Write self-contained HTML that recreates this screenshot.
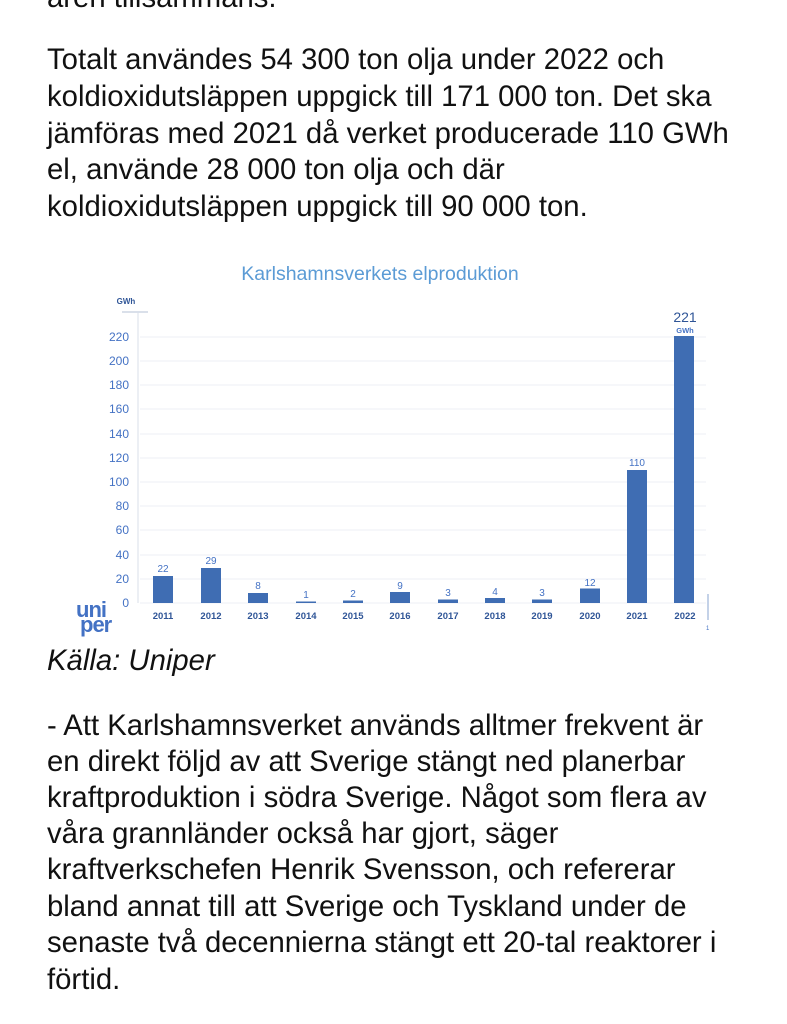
<!DOCTYPE html>
<html><head><meta charset="utf-8"><style>
body{margin:0;width:787px;height:1024px;overflow:hidden;background:#fff;position:relative;font-family:"Liberation Sans",sans-serif;color:#111}
.l{position:absolute;left:47px;font-size:29.3px;white-space:nowrap;line-height:34px}
</style></head><body>
<div class="l" style="top:-19px">åren tillsammans.</div>
<div class="l" style="top:43px">Totalt användes 54 300 ton olja under 2022 och</div>
<div class="l" style="top:80px">koldioxidutsläppen uppgick till 171 000 ton. Det ska</div>
<div class="l" style="top:117px">jämföras med 2021 då verket producerade 110 GWh</div>
<div class="l" style="top:153px">el, använde 28 000 ton olja och där</div>
<div class="l" style="top:190px">koldioxidutsläppen uppgick till 90 000 ton.</div>

<svg style="position:absolute;left:0;top:0" width="787" height="1024" font-family="Liberation Sans, sans-serif">
<text x="380" y="280" text-anchor="middle" font-size="19.5" fill="#5b9bd5">Karlshamnsverkets elproduktion</text>
<text x="126" y="304" text-anchor="middle" font-size="8" font-weight="bold" fill="#2f5597">GWh</text>
<line x1="122" y1="312" x2="148" y2="312" stroke="#b4c0d4" stroke-width="1"/>
<line x1="138" y1="312" x2="138" y2="603" stroke="#d8dfea" stroke-width="1"/>
<g stroke="#eceff4" stroke-width="1">
<line x1="140" x2="706" y1="337" y2="337"/><line x1="140" x2="706" y1="361" y2="361"/>
<line x1="140" x2="706" y1="385" y2="385"/><line x1="140" x2="706" y1="409" y2="409"/>
<line x1="140" x2="706" y1="434" y2="434"/><line x1="140" x2="706" y1="458" y2="458"/>
<line x1="140" x2="706" y1="482" y2="482"/><line x1="140" x2="706" y1="506" y2="506"/>
<line x1="140" x2="706" y1="530" y2="530"/><line x1="140" x2="706" y1="555" y2="555"/>
<line x1="140" x2="706" y1="579" y2="579"/><line x1="140" x2="706" y1="603" y2="603"/>
</g>
<g font-size="12" fill="#4472c4" text-anchor="end">
<text x="129" y="341">220</text><text x="129" y="365">200</text><text x="129" y="389">180</text>
<text x="129" y="413">160</text><text x="129" y="438">140</text><text x="129" y="462">120</text>
<text x="129" y="486">100</text><text x="129" y="510">80</text><text x="129" y="534">60</text>
<text x="129" y="559">40</text><text x="129" y="583">20</text><text x="129" y="607">0</text>
</g>
<g fill="#3f6db3">
<rect x="153" y="576" width="20" height="27"/>
<rect x="201" y="568" width="20" height="35"/>
<rect x="248" y="593" width="20" height="10"/>
<rect x="296" y="601.5" width="20" height="1.5"/>
<rect x="343" y="600.5" width="20" height="2.5"/>
<rect x="390" y="592" width="20" height="11"/>
<rect x="438" y="599.5" width="20" height="3.5"/>
<rect x="485" y="598" width="20" height="5"/>
<rect x="532" y="599.5" width="20" height="3.5"/>
<rect x="580" y="588.5" width="20" height="14.5"/>
<rect x="627" y="470" width="20" height="133"/>
<rect x="674" y="336" width="20" height="267"/>
</g>
<g font-size="10" fill="#4472c4" text-anchor="middle">
<text x="163" y="572">22</text><text x="211" y="564">29</text><text x="258" y="589">8</text>
<text x="306" y="598">1</text><text x="353" y="597">2</text><text x="400" y="589">9</text>
<text x="448" y="596">3</text><text x="495" y="595">4</text><text x="542" y="596">3</text>
<text x="590" y="586">12</text><text x="637" y="466">110</text>
<text x="685" y="322" font-size="14" fill="#2f5597">221</text>
<text x="685" y="333" font-size="7.5" font-weight="bold">GWh</text>
</g>
<g font-size="9.5" font-weight="bold" fill="#2f5597" text-anchor="middle">
<text x="163" y="619">2011</text><text x="211" y="619">2012</text><text x="258" y="619">2013</text>
<text x="306" y="619">2014</text><text x="353" y="619">2015</text><text x="400" y="619">2016</text>
<text x="448" y="619">2017</text><text x="495" y="619">2018</text><text x="542" y="619">2019</text>
<text x="590" y="619">2020</text><text x="637" y="619">2021</text><text x="685" y="619">2022</text>
</g>
<line x1="708" y1="594" x2="708" y2="620" stroke="#8aa5d0" stroke-width="1"/>
<text x="706" y="630" font-size="6" fill="#4472c4">1</text>
<text x="76" y="617" font-size="22" font-weight="bold" fill="#4472c4" letter-spacing="-1">uni</text>
<text x="80" y="632" font-size="22" font-weight="bold" fill="#4472c4" letter-spacing="-1">per</text>
</svg>

<div class="l" style="top:644px;font-style:italic">Källa: Uniper</div>
<div class="l" style="top:709px">- Att Karlshamnsverket används alltmer frekvent är</div>
<div class="l" style="top:745px">en direkt följd av att Sverige stängt ned planerbar</div>
<div class="l" style="top:781px">kraftproduktion i södra Sverige. Något som flera av</div>
<div class="l" style="top:817px">våra grannländer också har gjort, säger</div>
<div class="l" style="top:853px">kraftverkschefen Henrik Svensson, och refererar</div>
<div class="l" style="top:890px">bland annat till att Sverige och Tyskland under de</div>
<div class="l" style="top:926px">senaste två decennierna stängt ett 20-tal reaktorer i</div>
<div class="l" style="top:963px">förtid.</div>
</body></html>
